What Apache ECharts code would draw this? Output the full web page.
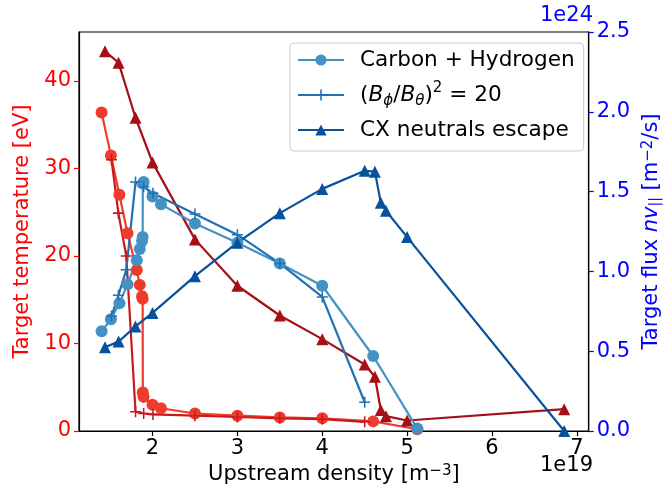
<!DOCTYPE html>
<html><head><meta charset="utf-8">
<script src="https://cdn.jsdelivr.net/npm/echarts@6/dist/echarts.min.js"></script>
<style>html,body{margin:0;padding:0;background:#fff}#c{width:670px;height:492px}</style>
</head><body><div id="c"></div>
<script>
// ---- data (upstream density in 1e19 m^-3, temperature in eV, flux in 1e24 m^-2/s) ----
const xCarbon = [1.40, 1.51, 1.61, 1.705, 1.815, 1.85, 1.877, 1.884, 1.886, 1.895, 2.0, 2.1, 2.5, 3.0, 3.5, 4.0, 4.6, 5.12];
const tCarbon = [36.4, 31.5, 27.0, 22.6, 18.4, 16.7, 15.4, 15.1, 4.4, 3.9, 3.0, 2.6, 2.0, 1.75, 1.55, 1.45, 1.1, 0.2];
const fCarbon = [0.625, 0.70, 0.80, 0.92, 1.07, 1.14, 1.19, 1.215, 1.55, 1.56, 1.47, 1.42, 1.30, 1.18, 1.05, 0.91, 0.47, 0.015];

const xB20 = [1.517, 1.598, 1.691, 1.80, 1.896, 2.005, 2.5, 3.0, 3.5, 4.0, 4.5];
const tB20 = [31.0, 24.9, 20.0, 2.2, 2.0, 1.9, 1.75, 1.6, 1.45, 1.35, 1.05];
const fB20 = [0.72, 0.85, 1.01, 1.56, 1.53, 1.49, 1.36, 1.23, 1.05, 0.84, 0.18];

const xCX = [1.44, 1.60, 1.80, 2.0, 2.5, 3.0, 3.5, 4.0, 4.5, 4.62, 4.69, 4.75, 5.0, 6.85];
const tCX = [43.4, 42.1, 35.8, 30.7, 21.9, 16.6, 13.2, 10.5, 7.6, 6.2, 2.4, 1.7, 1.2, 2.5];
const fCX = [0.525, 0.56, 0.655, 0.74, 0.97, 1.18, 1.365, 1.517, 1.63, 1.625, 1.43, 1.38, 1.215, 0.0];

const xTicks = [2, 3, 4, 5, 6, 7];
const leftTicks = [0, 10, 20, 30, 40];
const rightTicks = [0, 0.5, 1.0, 1.5, 2.0, 2.5];

const names = ['Carbon + Hydrogen', 'B20', 'CX neutrals escape'];

// ---- chart ----
const FONT = 'DejaVu Sans';
const FS = 21;
const LFS = 21.6;
const pair = (xs, ys) => xs.map((x, i) => [x, ys[i]]);
const PLUS = 'path://M4.3,0H5.7V4.3H10V5.7H5.7V10H4.3V5.7H0V4.3H4.3Z';

function mk(name, xs, ys, axis, color, symbol, size) {
  return {
    name: name, type: 'line', yAxisIndex: axis, data: pair(xs, ys),
    symbol: symbol, symbolSize: size, showSymbol: true,
    lineStyle: { color: color, width: 2.2 },
    itemStyle: { color: color, borderWidth: 0 },
    emphasis: { disabled: true }, animation: false, z: 3
  };
}

const chart = echarts.init(document.getElementById('c'), null, { renderer: 'canvas' });
const axisLine = { show: true, lineStyle: { color: '#000', width: 1.2 } };
chart.setOption({
  backgroundColor: '#fff',
  animation: false,
  textStyle: { fontFamily: FONT },
  grid: { left: 79, right: 77, top: 32, bottom: 61, show: true, borderColor: '#000', borderWidth: 1.2, backgroundColor: 'transparent' },
  legend: {
    data: names, orient: 'vertical', left: 290, top: 43,
    itemWidth: 46, itemHeight: 14, itemGap: 7,
    padding: [3, 9, 7, 7],
    borderColor: '#cccccc', borderWidth: 1, borderRadius: 4,
    backgroundColor: 'rgba(255,255,255,0.8)',
    selectedMode: false,
    formatter: function (n) {
      if (n === 'B20') return '{g|}({i|B}{sub|ϕ}/{i|B}{sub|θ}){sup|2} = 20';
      return '{g|}' + n;
    },
    textStyle: {
      fontFamily: FONT, fontSize: LFS, color: '#000', lineHeight: 28,
      rich: {
        g: { width: 11 },
        i: { fontFamily: FONT, fontSize: LFS, fontStyle: 'italic', lineHeight: 28 },
        sub: { fontFamily: FONT, fontSize: 15, fontStyle: 'italic', verticalAlign: 'bottom', lineHeight: 22 },
        sup: { fontFamily: FONT, fontSize: 15, verticalAlign: 'top', lineHeight: 18 }
      }
    }
  },
  xAxis: {
    type: 'value', min: 1.134, max: 7.139,
    axisLine: axisLine,
    splitLine: { show: false },
    axisTick: { show: true, length: 5, lineStyle: { color: '#000', width: 1.2 }, customValues: xTicks },
    axisLabel: { customValues: xTicks, fontFamily: FONT, fontSize: FS, color: '#000', margin: 7, formatter: v => String(v) },
    name: 'Upstream density [m{sup|−3}]', nameLocation: 'middle', nameGap: 30,
    nameTextStyle: { fontFamily: FONT, fontSize: FS, color: '#000',
      rich: { sup: { fontFamily: FONT, fontSize: 15, verticalAlign: 'top', lineHeight: 14 } } }
  },
  yAxis: [
    {
      type: 'value', min: 0, max: 45.6, position: 'left',
      axisLine: axisLine, splitLine: { show: false },
      axisTick: { show: true, length: 5, lineStyle: { color: '#ff0000', width: 1.2 }, customValues: leftTicks },
      axisLabel: { customValues: leftTicks, fontFamily: FONT, fontSize: FS, color: '#ff0000', margin: 8, formatter: v => String(v) },
      name: 'Target temperature [eV]', nameLocation: 'middle', nameRotate: 90, nameGap: 46,
      nameTextStyle: { fontFamily: FONT, fontSize: FS, color: '#ff0000' }
    },
    {
      type: 'value', min: 0, max: 2.5, position: 'right',
      axisLine: axisLine, splitLine: { show: false },
      axisTick: { show: true, length: 5, lineStyle: { color: '#0000ff', width: 1.2 }, customValues: rightTicks },
      axisLabel: { customValues: rightTicks, fontFamily: FONT, fontSize: FS, color: '#0000ff', margin: 8, formatter: v => v.toFixed(1) },
      name: 'Target flux {i|nv}{sub|||} [m{sup|−2}/s]', nameLocation: 'middle', nameRotate: 90, nameGap: 44,
      nameTextStyle: { fontFamily: FONT, fontSize: FS, color: '#0000ff',
        rich: {
          i: { fontFamily: FONT, fontSize: FS, fontStyle: 'italic', color: '#0000ff' },
          sub: { fontFamily: FONT, fontSize: 14, color: '#0000ff', verticalAlign: 'bottom', lineHeight: 20 },
          sup: { fontFamily: FONT, fontSize: 15, color: '#0000ff', verticalAlign: 'top', lineHeight: 14 }
        } }
    }
  ],
  graphic: [
    { type: 'text', right: 77, top: 455, style: { text: '1e19', font: FS + 'px "DejaVu Sans"', fill: '#000' } },
    { type: 'text', right: 77, top: 5, style: { text: '1e24', font: FS + 'px "DejaVu Sans"', fill: '#0000ff' } }
  ],
  series: [
    mk('tC', xCarbon, tCarbon, 0, '#ef3b2c', 'circle', 12),
    mk('tB', xB20, tB20, 0, '#cb181d', PLUS, 11),
    mk('tX', xCX, tCX, 0, '#a50f15', 'triangle', 12),
    mk(names[0], xCarbon, fCarbon, 1, '#4292c6', 'circle', 12),
    mk(names[1], xB20, fB20, 1, '#2171b5', PLUS, 11),
    mk(names[2], xCX, fCX, 1, '#08519c', 'triangle', 12)
  ]
});
</script></body></html>
